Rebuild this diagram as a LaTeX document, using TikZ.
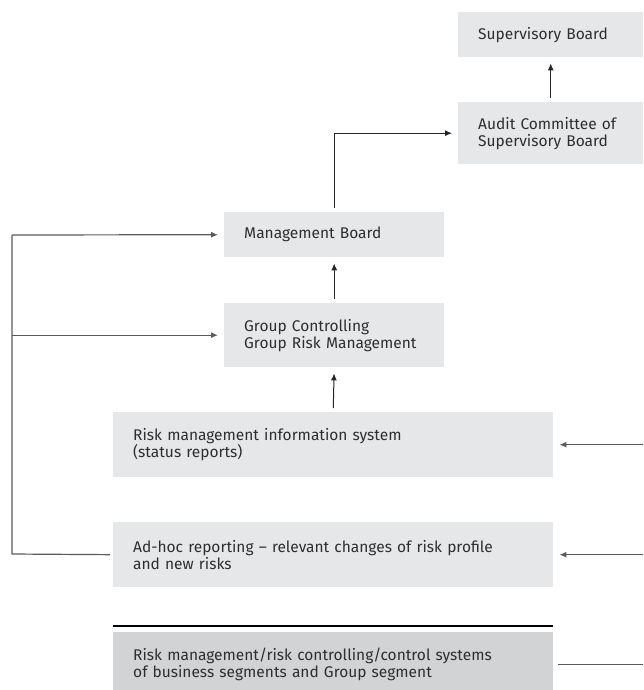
\documentclass[tikz,border=0pt]{standalone}
\usepackage{fontspec}
\setmainfont{Fira Sans}
\usetikzlibrary{arrows.meta}
\definecolor{boxgray}{HTML}{E6E7E8}
\definecolor{darkbox}{HTML}{D1D3D4}
\definecolor{txtgray}{HTML}{2E2E2E}
\definecolor{linegray}{HTML}{5A5A5A}
\begin{document}
\begin{tikzpicture}[x=1pt,y=-1pt]
    \tikzstyle{box}=[fill=boxgray,anchor=north west,align=left,inner xsep=20pt,inner ysep=0pt,text=txtgray,font=\fontsize{15.5}{17}\selectfont]
    \tikzstyle{up}=[-{Latex[length=7pt,width=6pt]},draw=black!85,line width=1pt,shorten >=6pt,shorten <=4pt]
    \tikzstyle{feed}=[-{Latex[length=7pt,width=6pt]},draw=linegray,line width=1.2pt,shorten >=6pt]
    \tikzstyle{plain}=[draw=linegray,line width=1.2pt]

    \useasboundingbox (0,0) rectangle (643,690);

    \node[box,minimum width=185pt,minimum height=45pt,text width=145pt](sup) at (458,12){Supervisory Board};
    \node[box,minimum width=185pt,minimum height=62pt,text width=145pt](audit) at (458,102){Audit Committee of\\Supervisory Board};
    \node[box,minimum width=220pt,minimum height=45pt,text width=180pt](mgmt) at (224,212){Management Board};
    \node[box,minimum width=220pt,minimum height=64pt,text width=180pt](grc) at (224,303){Group Controlling\\Group Risk Management};
    \node[box,minimum width=440pt,minimum height=65pt,text width=400pt](info) at (113,412){Risk management information system\\(status reports)};
    \node[box,minimum width=440pt,minimum height=65pt,text width=400pt](adhoc) at (113,522){Ad-hoc reporting -- relevant changes of risk profile\\and new risks};
    \node[box,fill=darkbox,minimum width=440pt,minimum height=65pt,text width=400pt](segs) at (113,632){Risk management/risk controlling/control systems\\of business segments and Group segment};

    \coordinate (lt) at (12,235);
    \coordinate (lb) at (12,554);
    \coordinate (edge) at (643,0);
    \coordinate (rl) at (113,626);
    \coordinate (rr) at (553,626);

    \draw [up] (audit.north) -- (sup.south);
    \draw [up] (mgmt.north) |- (audit.west);
    \draw [up] (grc.north) -- (mgmt.south);
    \draw [up] (info.north) -- (grc.south);

    \draw [plain,shorten <=3pt] (adhoc.west) -- (lb) -- (lt);
    \draw [feed] (lt) -- (mgmt.west);
    \draw [feed] (lb |- grc.west) -- (grc.west);

    \draw [feed] (edge |- info.east) -- (info.east);
    \draw [feed] (edge |- adhoc.east) -- (adhoc.east);
    \draw [plain,shorten >=5pt] (edge |- segs.east) -- (segs.east);

    \draw [line width=1.5pt] (rl) -- (rr);
  \end{tikzpicture}
\end{document}
